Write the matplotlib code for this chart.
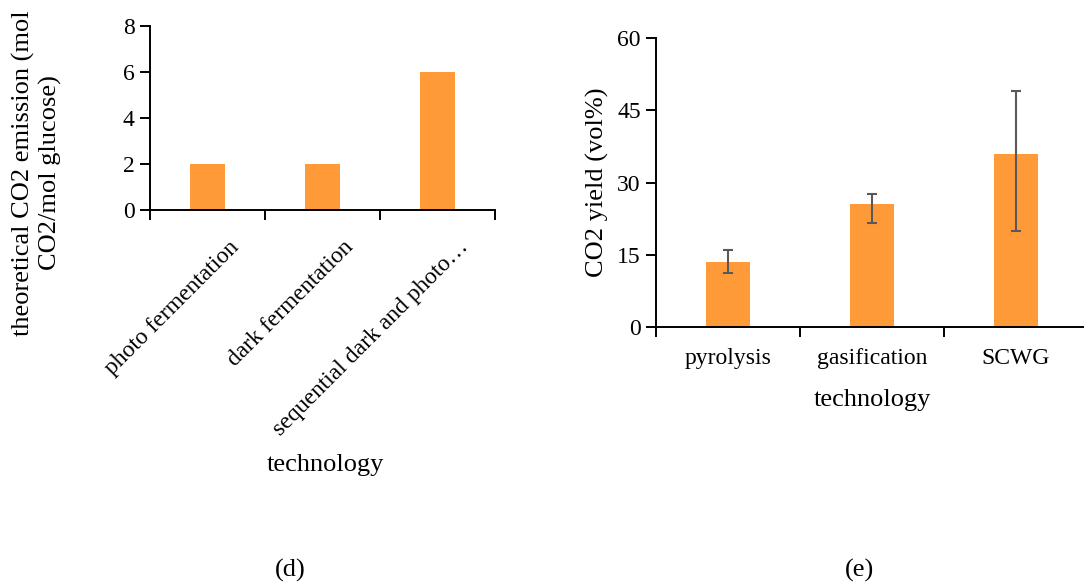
import matplotlib
matplotlib.use("Agg")
import matplotlib.pyplot as plt
from matplotlib.transforms import ScaledTranslation

plt.rcParams['font.family'] = ['Liberation Serif', 'DejaVu Serif']

# Panel (d): theoretical CO2 emission by fermentation route
ferm_tech = ["photo fermentation", "dark fermentation", "sequential dark and photo…"]
ferm_co2 = [2, 2, 6]

# Panel (e): CO2 yield by thermochemical route
thermo_tech = ["pyrolysis", "gasification", "SCWG"]
thermo_co2 = [13.5, 25.5, 36.0]
thermo_err_low = [2.2, 3.8, 16.0]
thermo_err_high = [2.4, 2.2, 13.0]

BAR = "#FF9A38"
ERR = "#595959"
TICK_FS = 17
TITLE_FS = 19

W, H = 1084, 585
fig = plt.figure(figsize=(W / 100, H / 100), dpi=100)


def px_axes(x0, y0, x1, y1):
    return fig.add_axes([x0 / W, 1 - y1 / H, (x1 - x0) / W, (y1 - y0) / H])


def style(ax, n):
    for s in ("top", "right"):
        ax.spines[s].set_visible(False)
    for s in ("left", "bottom"):
        ax.spines[s].set_linewidth(1.4)
    ax.set_xlim(-0.5, n - 0.5)
    ax.set_xticks([i - 0.5 for i in range(n + 1)])
    ax.set_xticklabels([])
    ax.tick_params(axis="x", which="major", length=7, width=1.4, direction="out")
    ax.tick_params(axis="x", which="minor", length=0, labelsize=TICK_FS, pad=15)
    ax.tick_params(axis="y", length=7, width=1.4, labelsize=TICK_FS, pad=4)


# ---- (d) ----
ax1 = px_axes(150, 26, 495, 210)
x1 = list(range(len(ferm_tech)))
ax1.bar(x1, ferm_co2, width=0.31, color=BAR)
style(ax1, len(ferm_tech))
ax1.set_ylim(0, 8)
ax1.set_yticks([0, 2, 4, 6, 8])
# slanted category names, their upper ends set a little right of and below each tick
label_shift = ScaledTranslation(28 / 100, -34 / 100, fig.dpi_scale_trans)
for xi, name in zip(x1, ferm_tech):
    ax1.text(xi, 0, name, transform=ax1.get_xaxis_transform() + label_shift,
             rotation=45, rotation_mode="anchor", ha="right", va="center",
             fontsize=TICK_FS)
fig.text(37 / W, 1 - 173 / H, "theoretical CO2 emission (mol\nCO2/mol glucose)",
         rotation=90, ha="center", va="center", fontsize=TITLE_FS,
         multialignment="center", linespacing=1.25)
fig.text(325 / W, 1 - 465 / H, "technology", ha="center", va="center",
         fontsize=TITLE_FS)
fig.text(290 / W, 1 - 570 / H, "(d)", ha="center", va="center", fontsize=TITLE_FS)

# ---- (e) ----
ax2 = px_axes(656, 38.3, 1088, 327)
x2 = list(range(len(thermo_tech)))
ax2.bar(x2, thermo_co2, width=0.31, color=BAR)
ax2.errorbar(x2, thermo_co2, yerr=[thermo_err_low, thermo_err_high], fmt="none",
             ecolor=ERR, elinewidth=1.5, capsize=3.5, capthick=1.5)
style(ax2, len(thermo_tech))
ax2.set_ylim(0, 60)
ax2.set_yticks([0, 15, 30, 45, 60])
ax2.set_xticks(x2, minor=True)
ax2.set_xticklabels(thermo_tech, minor=True)
ax2.set_ylabel("CO2 yield (vol%)", fontsize=TITLE_FS, labelpad=6)
fig.text(872 / W, 1 - 400 / H, "technology", ha="center", va="center",
         fontsize=TITLE_FS)
fig.text(860 / W, 1 - 570 / H, "(e)", ha="center", va="center", fontsize=TITLE_FS)

fig.savefig("out.png", dpi=100, facecolor="white")
